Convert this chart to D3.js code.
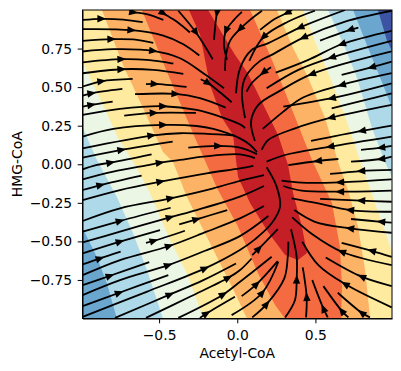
<!DOCTYPE html>
<html>
<head>
<meta charset="utf-8">
<script src="https://cdn.jsdelivr.net/npm/d3@7"></script>
<style>
  html, body { margin: 0; background: #fff; }
  text { font-family: "DejaVu Sans", sans-serif; fill: #000; }
</style>
</head>
<body>
<div id="container"></div>
<script>
let xLabel = 'Acetyl-CoA',
  yLabel = 'HMG-CoA',
  xTicks = [-0.5, 0, 0.5],
  yTicks = [-0.75, -0.5, -0.25, 0, 0.25, 0.5, 0.75],
  xExtent = [-0.99, 0.99],
  yExtent = [-1, 1]

// filled bands, lowest level first, each one painted over the one before
let levelColors = ['#3d54a4', '#6ba6cf', '#aed9e8', '#ebf6e5', '#feeb9f', '#fdb366', '#f46a41', '#c41e27']
let level0 = [[-0.99, 1], [0.99, 1], [0.99, -1], [-0.99, -1]]
let level1 = [[-0.99, 1], [0.9, 1], [0.958, 0.8], [0.99, 0.735], [0.99, -1], [-0.99, -1]]
let level2 = [[-0.99, 1], [0.741, 1], [0.837, 0.754], [0.933, 0.514], [0.99, 0.365], [0.99, -1], [-0.77, -1], [-0.834, -0.771], [-0.898, -0.602], [-0.99, -0.414]]
let level3 = [[-0.99, 1], [0.581, 1], [0.69, 0.754], [0.766, 0.56], [0.862, 0.235], [0.945, 0.015], [0.99, -0.083], [0.99, -1], [-0.475, -1], [-0.578, -0.686], [-0.667, -0.446], [-0.77, -0.213], [-0.898, 0.028], [-0.99, 0.242]]
let level4 = [[-0.99, 1], [0.421, 1], [0.498, 0.794], [0.606, 0.534], [0.709, 0.255], [0.785, 0.028], [0.881, -0.251], [0.965, -0.492], [0.99, -0.576], [0.99, -1], [-0.215, -1], [-0.322, -0.706], [-0.43, -0.492], [-0.558, -0.187], [-0.654, -0.005], [-0.763, 0.17], [-0.859, 0.385], [-0.99, 0.664]]
let level5 = [[-0.866, 1], [0.254, 1], [0.357, 0.754], [0.446, 0.579], [0.562, 0.3], [0.645, 0.015], [0.709, -0.167], [0.773, -0.407], [0.818, -0.686], [0.85, -1], [0.062, -1], [-0.014, -0.836], [-0.194, -0.472], [-0.322, -0.213], [-0.411, 0.014], [-0.475, 0.08], [-0.603, 0.365], [-0.731, 0.644]]
let level6 = [[-0.61, 1], [0.082, 1], [0.209, 0.709], [0.306, 0.469], [0.382, 0.274], [0.478, 0.028], [0.606, -0.251], [0.657, -0.537], [0.67, -0.797], [0.664, -1], [0.306, -1], [0.242, -0.913], [0.133, -0.706], [0, -0.394], [-0.13, -0.154], [-0.194, -0.005], [-0.27, 0.17], [-0.45, 0.599]]
let level7 = [[-0.309, 1], [-0.238, 0.839], [-0.174, 0.514], [-0.097, 0.3], [-0.027, 0.19], [-0.008, 0.028], [0.005, -0.083], [0.082, -0.251], [0.197, -0.44], [0.306, -0.589], [0.389, -0.621], [0.446, -0.576], [0.414, -0.407], [0.357, -0.187], [0.325, -0.005], [0.261, 0.19], [0.158, 0.404], [0.114, 0.495], [0.062, 0.599], [-0.014, 0.709], [-0.187, 1]]
let levels = [level0, level1, level2, level3, level4, level5, level6, level7]

// streamlines in flow direction, arrowAt says which vertex carries the arrow head
let streamlines = [
  [[-0.989, 0.936], [-0.868, 0.943], [-0.729, 0.938], [-0.605, 0.921]],
  [[-0.686, 0.99], [-0.665, 0.986], [-0.58, 0.973], [-0.473, 0.936]],
  [[-0.494, 0.995], [-0.473, 0.979], [-0.388, 0.925], [-0.303, 0.854]],
  [[-0.377, 0.995], [-0.264, 0.854], [-0.157, 0.681]],
  [[-0.123, 1], [-0.13, 0.981], [-0.149, 0.806]],
  [[-0.989, 0.876], [-0.676, 0.869], [-0.473, 0.834], [-0.345, 0.778], [-0.243, 0.705]],
  [[0.03, 0.988], [-0.021, 0.936], [-0.072, 0.865], [-0.085, 0.774], [-0.066, 0.677]],
  [[0.158, 0.995], [0.082, 0.936], [0.018, 0.877], [-0.046, 0.8], [-0.072, 0.709], [-0.078, 0.605]],
  [[-0.989, 0.8], [-0.804, 0.811], [-0.665, 0.809], [-0.537, 0.787]],
  [[-0.989, 0.731], [-0.793, 0.746], [-0.537, 0.735], [-0.366, 0.687], [-0.217, 0.59], [-0.085, 0.493]],
  [[-0.989, 0.661], [-0.74, 0.681], [-0.58, 0.677], [-0.409, 0.653]],
  [[-0.989, 0.59], [-0.74, 0.616], [-0.537, 0.612], [-0.345, 0.586]],
  [[-0.989, 0.504], [-0.868, 0.538], [-0.669, 0.553]],
  [[-0.584, 0.519], [-0.527, 0.521], [-0.324, 0.501]],
  [[-0.234, 0.551], [-0.185, 0.525], [-0.111, 0.467], [-0.036, 0.402]],
  [[-0.989, 0.445], [-0.932, 0.46], [-0.735, 0.488]],
  [[-0.654, 0.454], [-0.394, 0.456], [-0.239, 0.428], [-0.074, 0.367]],
  [[-0.989, 0.374], [-0.932, 0.385], [-0.797, 0.406]],
  [[-0.989, 0.32], [-0.75, 0.359], [-0.473, 0.376], [-0.26, 0.352], [-0.111, 0.309], [0.017, 0.259], [0.05, 0.235]],
  [[-0.723, 0.315], [-0.533, 0.333], [-0.264, 0.333]],
  [[-0.989, 0.179], [-0.793, 0.229], [-0.473, 0.255], [-0.26, 0.248], [-0.153, 0.229], [0.017, 0.168], [0.083, 0.125], [0.126, 0.079]],
  [[-0.989, 0.103], [-0.548, 0.186], [-0.366, 0.201], [-0.015, 0.186]],
  [[-0.989, 0.043], [-0.74, 0.093], [-0.413, 0.147]],
  [[-0.989, -0.033], [-0.904, -0.005], [-0.81, 0.01], [-0.548, 0.064]],
  [[-0.313, 0.108], [-0.121, 0.119], [0.017, 0.108], [0.126, 0.066]],
  [[-0.989, -0.098], [-0.793, -0.048], [-0.569, -0.005], [-0.494, 0.01], [-0.366, 0.028], [-0.217, 0.049], [0.017, 0.064], [0.113, 0.04]],
  [[-0.989, -0.167], [-0.874, -0.135], [-0.612, -0.074]],
  [[-0.989, -0.232], [-0.75, -0.167], [-0.49, -0.113], [-0.196, -0.059], [0.017, -0.027], [0.103, -0.011]],
  [[-0.989, -0.368], [-0.75, -0.286], [-0.426, -0.221], [-0.153, -0.156], [0.017, -0.107], [0.171, -0.07]],
  [[-0.989, -0.437], [-0.75, -0.368], [-0.426, -0.282]],
  [[-0.989, -0.507], [-0.75, -0.437], [-0.43, -0.344], [-0.26, -0.297], [0.017, -0.21], [0.171, -0.141]],
  [[-0.371, -0.39], [-0.26, -0.357], [-0.064, -0.297]],
  [[-0.989, -0.578], [-0.75, -0.502], [-0.494, -0.427]],
  [[-0.584, -0.509], [-0.533, -0.496], [-0.335, -0.431]],
  [[-0.989, -0.649], [-0.878, -0.61], [-0.746, -0.567]],
  [[-0.989, -0.719], [-0.75, -0.621], [-0.435, -0.53], [-0.196, -0.437], [0.017, -0.351], [0.171, -0.271]],
  [[-0.989, -0.784], [-0.814, -0.723], [-0.563, -0.634]],
  [[-0.989, -0.848], [-0.75, -0.751], [-0.441, -0.654], [-0.206, -0.561], [0.017, -0.466], [0.199, -0.336]],
  [[-0.989, -0.92], [-0.755, -0.833], [-0.441, -0.719]],
  [[-0.989, -0.989], [-0.58, -0.827], [-0.206, -0.675], [0.017, -0.556], [0.113, -0.487], [0.22, -0.383], [0.274, -0.275], [0.252, -0.145], [0.188, -0.02]],
  [[-0.782, -0.996], [-0.43, -0.844], [-0.217, -0.751], [-0.008, -0.643]],
  [[-0.584, -0.996], [-0.303, -0.859], [-0.057, -0.736], [0.018, -0.686], [0.092, -0.611]],
  [[-0.377, -0.996], [-0.089, -0.844], [0.018, -0.762], [0.114, -0.686], [0.22, -0.6]],
  [[-0.239, -0.996], [-0.196, -0.967], [-0.015, -0.859]],
  [[-0.036, -0.978], [0.16, -0.833], [0.263, -0.632]],
  [[0.028, -0.855], [0.124, -0.777], [0.259, -0.628]],
  [[0.096, -0.589], [0.139, -0.546], [0.259, -0.42]],
  [[0.096, -0.993], [0.188, -0.907], [0.301, -0.74], [0.323, -0.6], [0.327, -0.502]],
  [[0.306, -0.993], [0.369, -0.881], [0.38, -0.747], [0.38, -0.6], [0.344, -0.422]],
  [[0.44, -0.993], [0.444, -0.859], [0.419, -0.669]],
  [[0.579, -0.993], [0.551, -0.935], [0.48, -0.751]],
  [[0.711, -0.993], [0.668, -0.95], [0.551, -0.79]],
  [[0.849, -0.993], [0.796, -0.963], [0.643, -0.833]],
  [[0.988, -0.928], [0.69, -0.777], [0.519, -0.654], [0.416, -0.502]],
  [[0.988, -0.79], [0.796, -0.729], [0.566, -0.604]],
  [[0.988, -0.654], [0.668, -0.567], [0.487, -0.459], [0.352, -0.344]],
  [[0.988, -0.6], [0.86, -0.561], [0.668, -0.509]],
  [[0.988, -0.444], [0.721, -0.416], [0.497, -0.373], [0.365, -0.297]],
  [[0.988, -0.379], [0.92, -0.373], [0.728, -0.355]],
  [[0.988, -0.308], [0.721, -0.297], [0.519, -0.254], [0.348, -0.221]],
  [[0.988, -0.243], [0.792, -0.236], [0.53, -0.225]],
  [[0.988, -0.171], [0.657, -0.178], [0.412, -0.171], [0.295, -0.141]],
  [[0.988, -0.098], [0.657, -0.117], [0.412, -0.119], [0.284, -0.106]],
  [[0.988, -0.037], [0.792, -0.044], [0.594, -0.063]],
  [[0.647, 0.034], [0.515, 0.021], [0.327, -0.005]],
  [[0.988, 0.049], [0.92, 0.034], [0.728, 0.017]],
  [[0.988, 0.119], [0.92, 0.108], [0.792, 0.093]],
  [[0.988, 0.179], [0.594, 0.114], [0.305, 0.06], [0.188, 0.017]],
  [[0.988, 0.25], [0.796, 0.216], [0.472, 0.151]],
  [[0.988, 0.385], [0.6, 0.302], [0.37, 0.233], [0.199, 0.158], [0.156, 0.093]],
  [[0.988, 0.46], [0.796, 0.411], [0.604, 0.363]],
  [[0.988, 0.525], [0.604, 0.428], [0.295, 0.374]],
  [[0.988, 0.59], [0.668, 0.514], [0.412, 0.428], [0.295, 0.341], [0.163, 0.229]],
  [[0.988, 0.666], [0.86, 0.629], [0.668, 0.579]],
  [[0.988, 0.731], [0.476, 0.584], [0.284, 0.482], [0.135, 0.385], [0.088, 0.276], [0.113, 0.151]],
  [[0.988, 0.8], [0.604, 0.692], [0.391, 0.612], [0.188, 0.493]],
  [[0.216, 0.629], [0.167, 0.594], [0.092, 0.525], [0.06, 0.471]],
  [[0.988, 0.865], [0.668, 0.778], [0.455, 0.677], [0.246, 0.594]],
  [[0.775, 0.886], [0.721, 0.871], [0.53, 0.802]],
  [[0.988, 0.995], [0.69, 0.925], [0.423, 0.821], [0.22, 0.709], [0.146, 0.67], [0.05, 0.56], [0.03, 0.462], [0.05, 0.3]],
  [[0.69, 1], [0.401, 0.886], [0.199, 0.785], [0.092, 0.741], [0.018, 0.622], [-0.008, 0.46]],
  [[0.497, 0.995], [0.327, 0.925], [0.167, 0.824], [0.077, 0.67]],
  [[0.35, 1], [0.318, 0.981], [0.242, 0.943], [0.146, 0.871]]
]
let arrowAt = [1, 1, 1, 1, 1, 1, 2, 2, 1, 2, 1, 1, 1, 1, 1, 1, 1, 1, 2, 1, 2, 1, 1, 2, 1, 3,
  1, 2, 2, 1, 2, 1, 1, 1, 1, 2, 1, 2, 1, 2, 1, 2, 1, 1, 1, 1, 1, 1, 2, 1, 1, 1, 1,
  1, 1, 1, 1, 1, 1, 1, 1, 1, 1, 1, 1, 1, 1, 1, 1, 1, -1, 1, 1, 1, 1, 1, 1, 1, 1, 2, 1, 2, 1]

let width = 401,
  height = 371,
  margin = { top: 10, right: 9, bottom: 52.5, left: 82.5 },
  bodyWidth = width - margin.left - margin.right,
  bodyHeight = height - margin.top - margin.bottom

let xScale = d3.scaleLinear().domain(xExtent).range([0, bodyWidth]),
  yScale = d3.scaleLinear().domain(yExtent).range([bodyHeight, 0])

let svg = d3.select('#container')
  .append('svg')
  .attr('width', width)
  .attr('height', height)
  .style('display', 'block')

svg.append('clipPath')
  .attr('id', 'plot-clip')
  .append('rect')
  .attr('width', bodyWidth)
  .attr('height', bodyHeight)

let g = svg.append('g')
  .attr('transform', 'translate(' + margin.left + ', ' + margin.top + ')')

let body = g.append('g').attr('clip-path', 'url(#plot-clip)')

let bandPath = d3.line()
  .x(d => xScale(d[0]))
  .y(d => yScale(d[1]))
  .curve(d3.curveLinearClosed)

body.selectAll('path.band')
  .data(levels)
  .join('path')
  .attr('class', 'band')
  .attr('d', bandPath)
  .attr('fill', (d, i) => levelColors[i])

let streamPath = d3.line()
  .x(d => xScale(d[0]))
  .y(d => yScale(d[1]))
  .curve(d3.curveCatmullRom.alpha(0.5))

body.selectAll('path.stream')
  .data(streamlines)
  .join('path')
  .attr('class', 'stream')
  .attr('d', streamPath)
  .attr('fill', 'none')
  .attr('stroke', '#000')
  .attr('stroke-width', 1.8)

let arrowLines = streamlines
  .map((pts, i) => ({ pts: pts, at: arrowAt[i] }))
  .filter(d => d.at >= 0)

body.selectAll('path.arrow')
  .data(arrowLines)
  .join('path')
  .attr('class', 'arrow')
  .attr('d', 'M4.6,0L-4.2,-3.7L-4.2,3.7Z')
  .attr('fill', '#000')
  .attr('transform', d => {
    let a = d.pts[d.at - 1], b = d.pts[d.at], c = d.pts[d.at + 1]
    let angle = Math.atan2(yScale(c[1]) - yScale(a[1]), xScale(c[0]) - xScale(a[0])) * 180 / Math.PI
    return 'translate(' + xScale(b[0]) + ', ' + yScale(b[1]) + ') rotate(' + angle + ')'
  })

let xAxis = d3.axisBottom(xScale).tickValues(xTicks).tickFormat(d3.format('.1f')).tickSize(4.8).tickSizeOuter(0).tickPadding(6.7),
  yAxis = d3.axisLeft(yScale).tickValues(yTicks).tickFormat(d3.format('.2f')).tickSize(4.8).tickSizeOuter(0).tickPadding(5.5)

g.append('g')
  .attr('transform', 'translate(0, ' + bodyHeight + ')')
  .call(xAxis)

g.append('g')
  .call(yAxis)

g.selectAll('.tick text').style('font-family', '"DejaVu Sans", sans-serif').style('font-size', '13.9px')

g.append('rect')
  .attr('width', bodyWidth)
  .attr('height', bodyHeight)
  .attr('fill', 'none')
  .attr('stroke', '#000')
  .attr('stroke-width', 1)

g.append('text')
  .text(xLabel)
  .attr('x', bodyWidth / 2)
  .attr('y', 358 - margin.top)
  .attr('text-anchor', 'middle')
  .style('font-size', '13.9px')

g.append('text')
  .text(yLabel)
  .attr('transform', 'translate(' + (22 - margin.left) + ', ' + (bodyHeight / 2) + ') rotate(-90)')
  .attr('text-anchor', 'middle')
  .style('font-size', '13.9px')
</script>
</body>
</html>
